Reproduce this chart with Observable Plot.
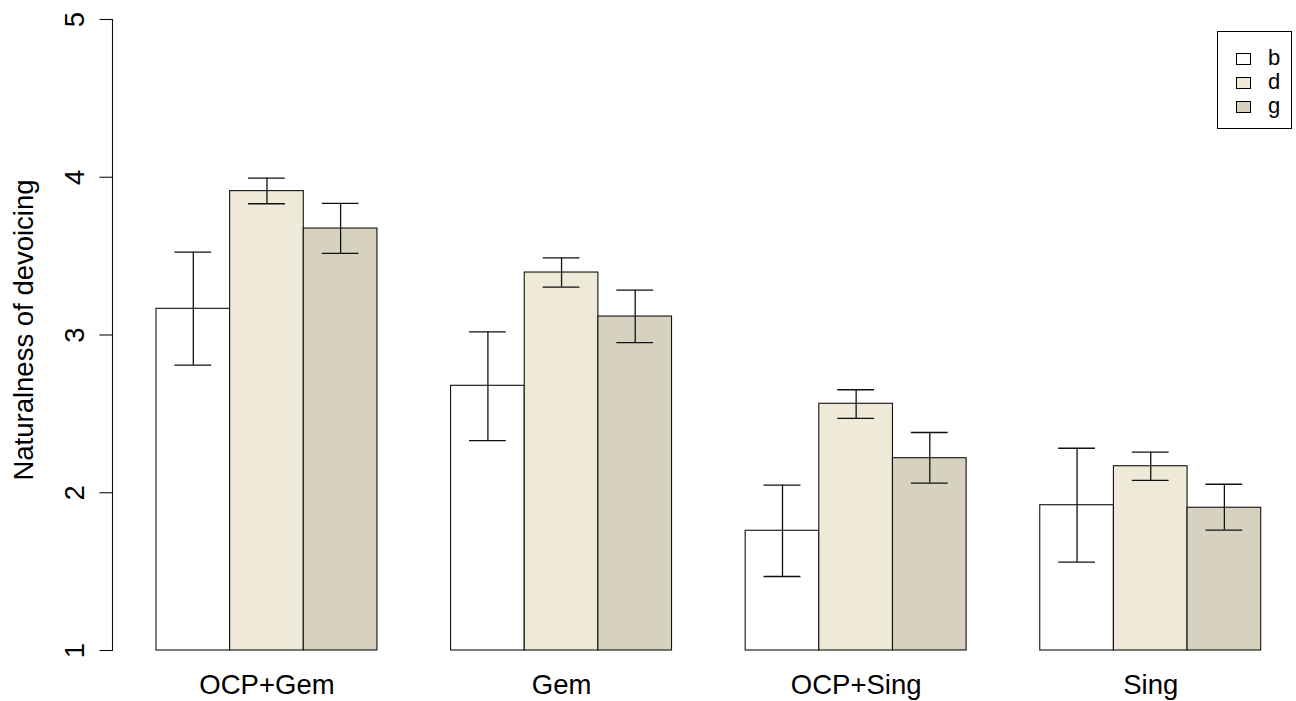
<!DOCTYPE html>
<html>
<head>
<meta charset="utf-8">
<script src="https://cdn.jsdelivr.net/npm/d3@7"></script>
<script src="https://cdn.jsdelivr.net/npm/@observablehq/plot@0.6"></script>
<style>
  html, body { margin: 0; padding: 0; background: #fff; }
  #wrap { position: relative; width: 1296px; height: 701px; font-family: "Liberation Sans", Arial, Helvetica, sans-serif; }
  #legend { position: absolute; left: 1217px; top: 31px; width: 73px; height: 96px; border: 1px solid #000; box-sizing: content-box; }
  .row { position: absolute; left: 0; height: 24px; width: 73px; }
  .sw { position: absolute; left: 18px; top: 7px; width: 13px; height: 10px; border: 1px solid #000; }
  .lb { position: absolute; left: 50px; top: 0; font-size: 22px; line-height: 24px; color: #000; }
</style>
</head>
<body>
<div id="wrap"></div>
<script>
// ---- data ----
const groups = ["OCP+Gem", "Gem", "OCP+Sing", "Sing"];
const series = ["b", "d", "g"];
const colors = ["#FFFFFF", "#EFEAD7", "#D7D2BF"];
const meanB = [3.166, 2.678, 1.759, 1.921];
const meanD = [3.912, 3.396, 2.564, 2.168];
const meanG = [3.675, 3.117, 2.219, 1.905];
const upB = [3.525, 3.020, 2.048, 2.282];
const upD = [3.994, 3.489, 2.653, 2.257];
const upG = [3.834, 3.284, 2.382, 2.054];
const loB = [2.809, 2.331, 1.469, 1.560];
const loD = [3.832, 3.303, 2.471, 2.078];
const loG = [3.517, 2.952, 2.061, 1.763];
const yTicks = [1, 2, 3, 4, 5];
const yLabel = "Naturalness of devoicing";

// ---- table built from arrays (R barplot beside=TRUE layout: bar width 1, group gap 1) ----
const means = [meanB, meanD, meanG];
const ups = [upB, upD, upG];
const los = [loB, loD, loG];
const rows = [];
groups.forEach((g, gi) => {
  series.forEach((s, si) => {
    const left = 1 + gi * (series.length + 1) + si;
    rows.push({group: g, series: s, x1: left, x2: left + 1, xc: left + 0.5,
               mean: means[si][gi], up: ups[si][gi], lo: los[si][gi]});
  });
});
const groupCenters = groups.map((g, gi) => ({group: g, x: 1 + gi * (series.length + 1) + series.length / 2}));
const xMin = 1, xMax = groups.length * (series.length + 1);
const yBase = yTicks[0];

const font = "'Liberation Sans', Arial, Helvetica, sans-serif";
const fs = 27.5;

const chart = Plot.plot({
  width: 1296,
  height: 701,
  marginLeft: 112,
  marginTop: 19,
  marginBottom: 51,
  marginRight: 4,
  style: {fontFamily: font, background: "white", overflow: "visible"},
  x: {domain: [xMin, xMax], range: [156, 1260.7], axis: null},
  y: {domain: [yTicks[0], yTicks[yTicks.length - 1]], axis: null},
  color: {domain: series, range: colors},
  marks: [
    Plot.rectY(rows, {x1: "x1", x2: "x2", y1: () => yBase, y2: "mean", fill: "series", stroke: "#111", strokeWidth: 1.1}),
    Plot.ruleX(rows, {x: "xc", y1: "lo", y2: "up", stroke: "#111", strokeWidth: 1.3}),
    Plot.ruleY(rows, {y: "up", x1: d => d.xc - 0.25, x2: d => d.xc + 0.25, stroke: "#111", strokeWidth: 1.3}),
    Plot.ruleY(rows, {y: "lo", x1: d => d.xc - 0.25, x2: d => d.xc + 0.25, stroke: "#111", strokeWidth: 1.3}),
    Plot.frame({anchor: "left", stroke: "#111", strokeWidth: 1.1}),
    Plot.axisY({ticks: yTicks, tickSize: 12.5, tickFormat: () => "", label: null, stroke: "#111", strokeWidth: 1.1}),
    Plot.text(yTicks, {y: d => d, text: d => String(d), frameAnchor: "left", textAnchor: "middle", dx: -37, rotate: -90, fontSize: fs, fill: "#000"}),
    Plot.text([yLabel], {frameAnchor: "left", textAnchor: "middle", dx: -88, dy: -5, rotate: -90, fontSize: fs, fill: "#000"}),
    Plot.text(groupCenters, {x: "x", text: "group", frameAnchor: "bottom", lineAnchor: "top", dy: 24, fontSize: fs, fill: "#000"})
  ]
});

const wrap = document.getElementById("wrap");
wrap.appendChild(chart);

// legend (R-style box, top right)
const legend = document.createElement("div");
legend.id = "legend";
series.forEach((s, i) => {
  const row = document.createElement("div");
  row.className = "row";
  row.style.top = (14 + i * 24) + "px";
  const sw = document.createElement("div");
  sw.className = "sw";
  sw.style.background = colors[i];
  const lb = document.createElement("div");
  lb.className = "lb";
  lb.textContent = s;
  row.appendChild(sw);
  row.appendChild(lb);
  legend.appendChild(row);
});
wrap.appendChild(legend);
</script>
</body>
</html>
